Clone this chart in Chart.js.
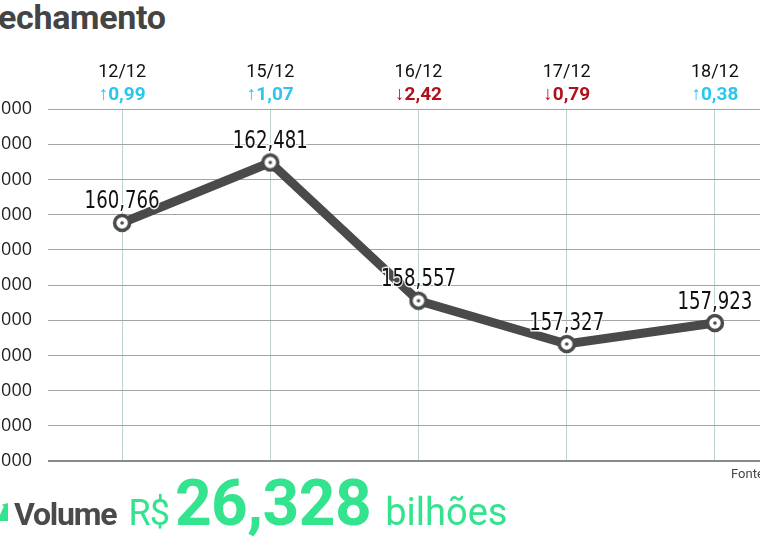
<!DOCTYPE html>
<html>
<head>
<meta charset="utf-8">
<script src="https://cdn.jsdelivr.net/npm/chart.js@4/dist/chart.umd.min.js"></script>
<style>
  html, body { margin: 0; padding: 0; background: #fff; overflow: hidden; width: 760px; height: 541px; }
  #wrap { position: relative; width: 760px; height: 541px; overflow: hidden; }
  #title { position: absolute; left: -20px; top: -3px; font: bold 34px Roboto, sans-serif; color: #444; letter-spacing: -0.3px; }
  #box { position: absolute; left: -40px; top: 0px; width: 848px; height: 488px; }
  #fonte { position: absolute; left: 731px; top: 466px; font: 13px Roboto, sans-serif; color: #444; }
  #vol { position: absolute; left: 14px; top: 466px; white-space: nowrap; font-family: Roboto, sans-serif; }
  #vol .lbl { font-weight: bold; font-size: 32px; color: #4a4a4a; letter-spacing: -1.2px; }
  #vol .rs { font-size: 36px; color: #33e38e; margin-left: 12px; letter-spacing: -1px; }
  #vol .num { font-weight: bold; font-size: 64px; color: #33e38e; margin-left: 6px; letter-spacing: -0.5px; }
  #vol .un { font-size: 38px; color: #33e38e; margin-left: 14px; }
  #icon { position: absolute; left: -6px; top: 503px; width: 14px; height: 18px; background: #33e38e;
          clip-path: polygon(0 100%, 0 40%, 40% 70%, 70% 20%, 55% 10%, 100% 0, 100% 100%); }
</style>
</head>
<body>
<div id="wrap">
  <div id="title">Fechamento</div>
  <div id="box"><canvas id="chart"></canvas></div>
  <div id="fonte">Fonte</div>
  <div id="icon"></div>
  <div id="vol"><span class="lbl">Volume</span><span class="rs">R$</span><span class="num">26,328</span><span class="un">bilhões</span></div>
</div>
<script>
var dias = ['12/12', '15/12', '16/12', '17/12', '18/12'];
var variacao = ['\u21910,99', '\u21911,07', '\u21932,42', '\u21930,79', '\u21910,38'];
var subiu = [true, true, false, false, true];
var fechamento = [160766, 162481, 158557, 157327, 157923];
var pontosLabels = ['160,766', '162,481', '158,557', '157,327', '157,923'];
var yMin = 154000;
var yMax = 164000;

// ponto: anel escuro com miolo branco e pontinho
function makePoint() {
  var c = document.createElement('canvas');
  c.width = 20; c.height = 20;
  var g = c.getContext('2d');
  g.beginPath(); g.arc(10, 10, 7.5, 0, Math.PI * 2);
  g.fillStyle = '#fff'; g.fill();
  g.lineWidth = 3.5; g.strokeStyle = '#4a4a4a'; g.stroke();
  g.beginPath(); g.arc(10, 10, 1.8, 0, Math.PI * 2);
  g.fillStyle = '#4a4a4a'; g.fill();
  return c;
}

// rotulos condensados em cima de cada ponto
var valueLabels = {
  id: 'valueLabels',
  afterDatasetsDraw: function(chart) {
    var ctx = chart.ctx;
    var meta = chart.getDatasetMeta(0);
    ctx.save();
    ctx.font = '25px "DejaVu Sans", sans-serif';
    ctx.textAlign = 'center';
    ctx.textBaseline = 'middle';
    meta.data.forEach(function(pt, i) {
      var w = ctx.measureText(pontosLabels[i]).width;
      var k = 75 / w;
      ctx.save();
      ctx.translate(pt.x, pt.y - 21);
      ctx.scale(k, 1);
      ctx.lineWidth = 3;
      ctx.strokeStyle = 'rgba(255,255,255,0.9)';
      ctx.strokeText(pontosLabels[i], 0, 0);
      ctx.fillStyle = '#111';
      ctx.fillText(pontosLabels[i], 0, 0);
      ctx.restore();
    });
    ctx.restore();
  }
};

new Chart(document.getElementById('chart'), {
  type: 'line',
  data: {
    labels: dias,
    datasets: [{
      data: fechamento,
      borderColor: '#4a4a4a',
      borderWidth: 9,
      pointStyle: makePoint(),
      pointRadius: 10,
      tension: 0,
      clip: false
    }]
  },
  options: {
    responsive: true,
    maintainAspectRatio: false,
    animation: false,
    layout: { padding: { top: 61, bottom: 10, left: 0, right: 0 } },
    plugins: { legend: { display: false }, tooltip: { enabled: false } },
    scales: {
      x: {
        type: 'category',
        position: 'top',
        offset: true,
        weight: 1,
        grid: { offset: false, color: '#bcd3cf', drawTicks: false },
        border: { display: false },
        ticks: { color: '#111', padding: 2, font: { family: 'Roboto', size: 18 } },
        afterFit: function(s) { s.height = 24; }
      },
      x2: {
        type: 'category',
        position: 'top',
        labels: variacao,
        offset: true,
        weight: 0,
        grid: { display: false, drawTicks: false },
        border: { display: false },
        ticks: {
          padding: 2,
          font: { family: 'Roboto', size: 19, weight: 'bold' },
          color: function(c) { return subiu[c.index] ? '#2ac6ee' : '#b0101c'; }
        },
        afterFit: function(s) { s.height = 24; }
      },
      y: {
        min: yMin,
        max: yMax,
        grid: {
          drawTicks: false,
          color: function(c) { return c.tick && c.tick.value === yMin ? '#8a8a8a' : '#a4a4a4'; },
          lineWidth: function(c) { return c.tick && c.tick.value === yMin ? 2 : 1; }
        },
        border: { display: false },
        ticks: {
          stepSize: 1000,
          padding: 16,
          color: '#222',
          font: { family: 'Open Sans', size: 18 },
          callback: function(v) { return v.toLocaleString('pt-BR'); }
        },
        afterFit: function(s) { s.width = 88; }
      }
    }
  },
  plugins: [valueLabels]
});
</script>
</body>
</html>
